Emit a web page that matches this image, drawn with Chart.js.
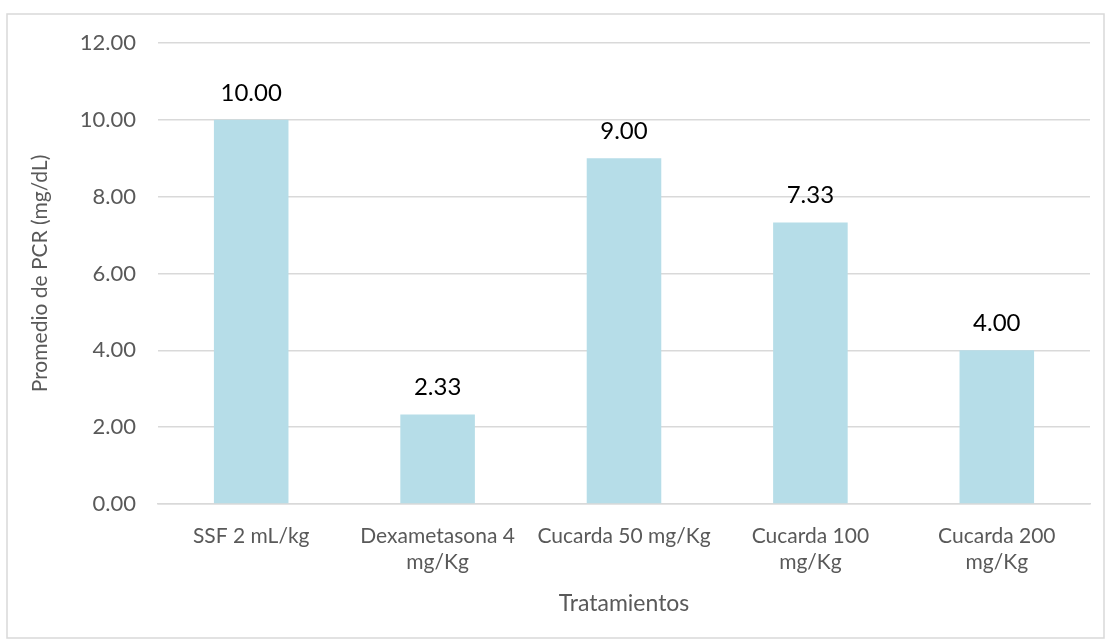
<!DOCTYPE html>
<html>
<head>
<meta charset="utf-8">
<script src="https://cdn.jsdelivr.net/npm/chart.js@4"></script>
<style>
  html, body { margin: 0; padding: 0; background: #fff; }
  #wrap { width: 1111px; height: 642px; position: relative; }
</style>
</head>
<body>
<div id="wrap"><canvas id="grafica"></canvas></div>
<script>
// datos
let categorias = [
    "SSF 2 mL/kg",
    ["Dexametasona 4", "mg/Kg"],
    "Cucarda 50 mg/Kg",
    ["Cucarda 100", "mg/Kg"],
    ["Cucarda 200", "mg/Kg"]
];
let promedios = [10.00, 2.33, 9.00, 7.33, 4.00];
let ticksY = [0, 2, 4, 6, 8, 10, 12];

let fuente = "Lato, 'Open Sans', sans-serif";

//Plugin para marco y etiquetas de valores
const marco = {
    id: "marco",
    beforeDraw(chart) {
        const ctx = chart.ctx;
        ctx.save();
        ctx.fillStyle = "#fff";
        ctx.fillRect(0, 0, chart.width, chart.height);
        ctx.strokeStyle = "#d9d9d9";
        ctx.lineWidth = 1.5;
        ctx.strokeRect(7, 14, 1097, 624);
        ctx.restore();
    },
    afterDatasetsDraw(chart) {
        const ctx = chart.ctx;
        ctx.save();
        ctx.fillStyle = "#000";
        ctx.font = "24px " + fuente;
        ctx.textAlign = "center";
        ctx.textBaseline = "middle";
        chart.getDatasetMeta(0).data.forEach(function (barra, i) {
            ctx.fillText(promedios[i].toFixed(2), barra.x, barra.y - 27);
        });
        ctx.restore();
    }
};

new Chart(document.getElementById("grafica"), {
    type: "bar",
    data: {
        labels: categorias,
        datasets: [{
            data: promedios,
            backgroundColor: "#b6dde8",
            barPercentage: 0.8,
            categoryPercentage: 0.5
        }]
    },
    options: {
        responsive: true,
        maintainAspectRatio: false,
        animation: false,
        layout: { padding: { left: 20, right: 21, top: 43, bottom: 0 } },
        plugins: {
            legend: { display: false },
            tooltip: { enabled: false }
        },
        scales: {
            x: {
                grid: { display: false },
                border: { display: true, color: "#d9d9d9", width: 1.5 },
                ticks: {
                    color: "#595959",
                    font: { family: fuente, size: 21 },
                    padding: 12,
                    maxRotation: 0,
                    autoSkip: false
                },
                title: {
                    display: true,
                    text: "Tratamientos",
                    color: "#595959",
                    font: { family: fuente, size: 23 },
                    padding: { top: 0, bottom: 25 }
                },
                afterFit(scale) { scale.height = 138; }
            },
            y: {
                min: 0,
                max: 12,
                afterBuildTicks(scale) {
                    scale.ticks = ticksY.map(v => ({ value: v }));
                },
                grid: { color: "#d9d9d9", lineWidth: 1.5, drawTicks: false },
                border: { display: false },
                ticks: {
                    color: "#595959",
                    font: { family: fuente, size: 22 },
                    padding: 22,
                    callback: v => Number(v).toFixed(2)
                },
                title: {
                    display: true,
                    text: "Promedio de PCR (mg/dL)",
                    color: "#595959",
                    font: { family: fuente, size: 21 },
                    padding: { top: 8, bottom: 0 }
                },
                afterFit(scale) { scale.width = 138; }
            }
        }
    },
    plugins: [marco]
});
</script>
</body>
</html>
